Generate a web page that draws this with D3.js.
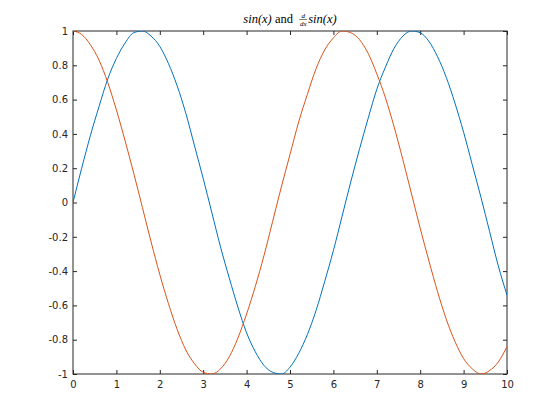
<!DOCTYPE html>
<html>
<head>
<meta charset="utf-8">
<script src="https://cdn.jsdelivr.net/npm/d3@7"></script>
<style>
  body { margin: 0; background: #fff; }
  svg { display: block; }
</style>
</head>
<body>
<svg width="560" height="420"></svg>
<script>
/* ---------------- data ---------------- */
var xs = [0, 0.2, 0.4, 0.6, 0.8, 1.0, 1.2, 1.4, 1.6, 1.8, 2.0, 2.2, 2.4, 2.6, 2.8, 3.0,
  3.2, 3.4, 3.6, 3.8, 4.0, 4.2, 4.4, 4.6, 4.8, 5.0, 5.2, 5.4, 5.6, 5.8, 6.0, 6.2, 6.4,
  6.6, 6.8, 7.0, 7.2, 7.4, 7.6, 7.8, 8.0, 8.2, 8.4, 8.6, 8.8, 9.0, 9.2, 9.4, 9.6, 9.8, 10.0];
var sinVals = [0.00, 0.20, 0.39, 0.56, 0.72, 0.84, 0.93, 0.99, 1.00, 0.97, 0.91, 0.81,
  0.68, 0.52, 0.33, 0.14, -0.06, -0.26, -0.44, -0.61, -0.76, -0.87, -0.95, -0.99, -1.00,
  -0.96, -0.88, -0.77, -0.63, -0.46, -0.28, -0.08, 0.12, 0.31, 0.49, 0.66, 0.79, 0.90,
  0.97, 1.00, 0.99, 0.94, 0.85, 0.73, 0.58, 0.41, 0.22, 0.03, -0.17, -0.37, -0.54];
var dsinVals = [1.00, 0.98, 0.92, 0.83, 0.70, 0.54, 0.36, 0.17, -0.03, -0.23, -0.42,
  -0.59, -0.74, -0.86, -0.94, -0.99, -1.00, -0.97, -0.90, -0.79, -0.65, -0.49, -0.31,
  -0.11, 0.09, 0.28, 0.47, 0.63, 0.78, 0.89, 0.96, 1.00, 0.99, 0.95, 0.87, 0.75, 0.61,
  0.44, 0.25, 0.05, -0.15, -0.34, -0.52, -0.68, -0.81, -0.91, -0.97, -1.00, -0.98,
  -0.93, -0.84];
var xTicks = [0, 1, 2, 3, 4, 5, 6, 7, 8, 9, 10];
var yTicks = [-1, -0.8, -0.6, -0.4, -0.2, 0, 0.2, 0.4, 0.6, 0.8, 1];

/* ---------------- layout ---------------- */
var box = { left: 73, top: 31, right: 507, bottom: 374 };
var axisColor = '#262626';

var svg = d3.select('svg');

var xScale = d3.scaleLinear().domain([0, 10]).range([box.left, box.right]);
var yScale = d3.scaleLinear().domain([-1, 1]).range([box.bottom, box.top]);

// clip so lines stay inside the box
svg.append('clipPath').attr('id', 'clip')
  .append('rect')
  .attr('x', box.left).attr('y', box.top)
  .attr('width', box.right - box.left).attr('height', box.bottom - box.top);

/* ---------------- axes ---------------- */
function styleAxis(g) {
  g.select('.domain').remove();
  g.selectAll('line').attr('stroke', axisColor);
  g.selectAll('text')
    .attr('fill', axisColor)
    .style('font-family', 'DejaVu Sans, sans-serif')
    .style('font-size', '10px');
}

var fmt = function (d) { return d3.format('')(d).replace('−', '-'); };

svg.append('g')
  .attr('transform', 'translate(0,' + box.bottom + ')')
  .call(d3.axisBottom(xScale).tickValues(xTicks).tickSize(-4).tickPadding(7).tickFormat(fmt))
  .call(styleAxis);

svg.append('g')
  .attr('transform', 'translate(0,' + box.top + ')')
  .call(d3.axisTop(xScale).tickValues(xTicks).tickSize(-4).tickFormat(''))
  .call(styleAxis);

svg.append('g')
  .attr('transform', 'translate(' + box.left + ',0)')
  .call(d3.axisLeft(yScale).tickValues(yTicks).tickSize(-4).tickPadding(5).tickFormat(fmt))
  .call(styleAxis);

svg.append('g')
  .attr('transform', 'translate(' + box.right + ',0)')
  .call(d3.axisRight(yScale).tickValues(yTicks).tickSize(-4).tickFormat(''))
  .call(styleAxis);

// frame
svg.append('rect')
  .attr('x', box.left).attr('y', box.top)
  .attr('width', box.right - box.left).attr('height', box.bottom - box.top)
  .attr('fill', 'none').attr('stroke', axisColor).attr('stroke-width', 1);

/* ---------------- lines ---------------- */
var line = d3.line()
  .x(function (d) { return xScale(d[0]); })
  .y(function (d) { return yScale(d[1]); })
  .curve(d3.curveMonotoneX);

var series = [
  { vals: sinVals, color: '#0072BD' },
  { vals: dsinVals, color: '#D95319' }
];

series.forEach(function (s) {
  svg.append('path')
    .datum(xs.map(function (x, i) { return [x, s.vals[i]]; }))
    .attr('clip-path', 'url(#clip)')
    .attr('fill', 'none')
    .attr('stroke', s.color)
    .attr('stroke-width', 1)
    .attr('d', line);
});

/* ---------------- title (latex style) ---------------- */
var title = svg.append('g').attr('fill', '#000')
  .style('font-family', 'Liberation Serif, serif').style('font-size', '12.5px');
var baseY = 23;

var t1 = title.append('text').attr('y', baseY);
t1.append('tspan').style('font-style', 'italic').text('sin(x)');
t1.append('tspan').text('\u00a0and\u00a0\u00a0');
var w1 = t1.node().getComputedTextLength();

var fracW = 8;
var frac = title.append('g');
frac.append('text').attr('y', baseY - 5).attr('text-anchor', 'middle')
  .style('font-style', 'italic').style('font-size', '7px').text('d');
frac.append('text').attr('y', baseY + 2.5).attr('text-anchor', 'middle')
  .style('font-style', 'italic').style('font-size', '7px').text('dx');
frac.append('line').attr('y1', baseY - 3.5).attr('y2', baseY - 3.5)
  .attr('stroke', '#000').attr('stroke-width', 0.5);

var t2 = title.append('text').attr('y', baseY).style('font-style', 'italic').text('sin(x)');
var w2 = t2.node().getComputedTextLength();

var total = w1 + fracW + 1 + w2;
var x0 = (box.left + box.right) / 2 - total / 2;
t1.attr('x', x0);
frac.selectAll('text').attr('x', x0 + w1 + fracW / 2);
frac.select('line').attr('x1', x0 + w1).attr('x2', x0 + w1 + fracW);
t2.attr('x', x0 + w1 + fracW + 1);
</script>
</body>
</html>
